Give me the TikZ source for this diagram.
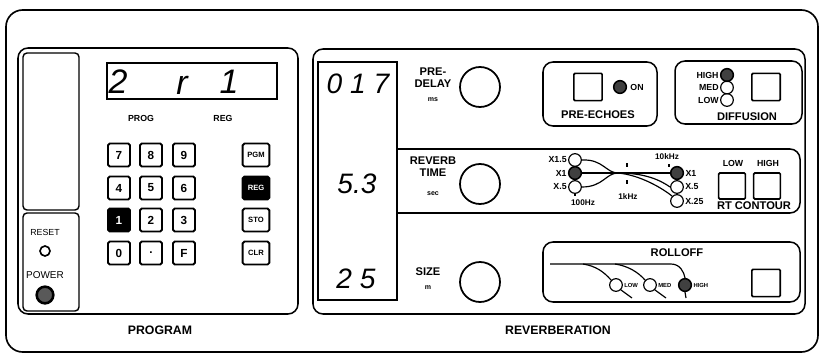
\documentclass[tikz,border=0pt]{standalone}
\usepackage{fontspec}
\setmainfont{Liberation Sans}
\tikzset{
  panel/.style={draw, line width=1.3pt, rounded corners=0.3cm},
  keybox/.style={draw, line width=1.6pt, rounded corners=1.5pt, minimum width=0.66cm, minimum height=0.69cm, inner sep=0pt, font=\bfseries\fontsize{10}{10}\selectfont},
  fnkey/.style={keybox, minimum width=0.8cm, font=\bfseries\fontsize{6.5}{7}\selectfont},
  litkey/.style={fill=black, text=white},
  knob/.style={draw, circle, line width=1.5pt, minimum size=1.2cm, inner sep=0pt},
  led/.style={draw, circle, line width=1pt, minimum size=0.38cm, inner sep=0pt},
  ledon/.style={led, fill=black!75, line width=1.3pt},
  pushbtn/.style={draw, line width=1.4pt, rounded corners=1pt, minimum width=0.85cm, minimum height=0.82cm, inner sep=0pt},
  lbl/.style={font=\bfseries\fontsize{9.5}{10.5}\selectfont, align=center},
  ledlbl/.style={font=\bfseries\fontsize{7.5}{8}\selectfont, inner sep=1pt},
  tinylbl/.style={font=\bfseries\fontsize{5}{5}\selectfont, inner sep=1pt},
  unitlbl/.style={font=\bfseries\fontsize{6}{6}\selectfont},
  seg/.style={font=\itshape\fontsize{24}{24}\selectfont, inner sep=0pt},
  wire/.style={line width=1pt},
}
\begin{document}
\begin{tikzpicture}[x=0.03cm, y=-0.03cm]
\useasboundingbox (0,0) rectangle (821,355);
\draw[line width=1.4pt, rounded corners=0.5cm] (6,10) rectangle (818,352);
\draw[panel] (18,48) rectangle (298,314);
\draw[line width=1.2pt, rounded corners=0.12cm] (23,53) rectangle (79,210);\draw[line width=1.2pt, rounded corners=0.12cm] (23,213) rectangle (79,311);
\node[font=\fontsize{7.5}{8}\selectfont] (rst) at (45,232) {RESET};
\node[draw, circle, line width=1.4pt, minimum size=0.3cm, inner sep=0pt] (rstled) at (45,251) {};
\node[font=\fontsize{8.5}{9}\selectfont] (pwr) at (45,275) {POWER};
\node[draw, circle, line width=2.2pt, fill=black!65, minimum size=0.5cm, inner sep=0pt] (pwrbtn) at (45,295) {};
\draw[line width=1.4pt] (107,63) rectangle (277,99);
\node[seg, font=\itshape\fontsize{29}{29}\selectfont] (pd1) at (118,82) {2};\node[seg, font=\itshape\fontsize{29}{29}\selectfont] (pd2) at (182,85) {r};\node[seg, font=\itshape\fontsize{29}{29}\selectfont] (pd3) at (229,82) {1};
\node[lbl, font=\bfseries\fontsize{7.5}{8}\selectfont] (prog) at (141,118) {PROG};\node[lbl, font=\bfseries\fontsize{7.5}{8}\selectfont] (reg) at (223,118) {REG};
\node[keybox] (k7) at (119,155) {7};\node[keybox] (k8) at (151,155) {8};\node[keybox] (k9) at (184,155) {9};\node[fnkey] (kpgm) at (256,155) {PGM};
\node[keybox] (k4) at (119,188) {4};\node[keybox] (k5) at (151,188) {5};\node[keybox] (k6) at (184,188) {6};\node[fnkey, litkey] (kreg) at (256,188) {REG};
\node[keybox, litkey] (k1) at (119,220) {1};\node[keybox] (k2) at (151,220) {2};\node[keybox] (k3) at (184,220) {3};\node[fnkey] (ksto) at (256,220) {STO};
\node[keybox] (k0) at (119,253) {0};\node[keybox] (kdot) at (151,253) {.};\node[keybox] (kf) at (184,253) {F};\node[fnkey] (kclr) at (256,253) {CLR};
\node[lbl, font=\bfseries\fontsize{10.5}{11}\selectfont] (progt) at (160,330) {PROGRAM};
\draw[panel] (313,49) rectangle (805,314);
\draw[line width=1.6pt] (318,62) rectangle (397,300);
\node[seg] (dpre) at (358,84) {0 1 7};\node[seg] (drev) at (357,184) {5.3};\node[seg] (dsize) at (356,279) {2 5};
\draw[line width=1.3pt, rounded corners=0.3cm] (397,149) -- (800,149) -- (800,213) -- (397,213);
\node[lbl] (prelbl) at (433,78) {PRE-\\DELAY};\node[unitlbl] (preu) at (433,100) {ms};\node[knob] (kpre) at (480,87) {};
\node[lbl] (revlbl) at (433,167) {REVERB\\TIME};\node[unitlbl] (revu) at (433,194) {sec};\node[knob] (krev) at (480,184) {};
\node[lbl] (sizelbl) at (428,272) {SIZE};\node[unitlbl] (sizeu) at (428,288) {m};\node[knob] (ksize) at (480,282) {};
\draw[panel] (543,62) rectangle (657,126);
\node[pushbtn] (bpre) at (588,87) {};\node[ledon] (lpre) at (620,87) {};\node[ledlbl] (lpreon) at (637,87) {ON};
\node[lbl] (pret) at (598,115) {PRE-ECHOES};
\draw[panel] (675,61) rectangle (802,124);
\node[ledon] (dhi) at (727,75) {};\node[led] (dmed) at (727,87.5) {};\node[led] (dlow) at (727,100) {};
\node[ledlbl, anchor=east] at (dhi.west) {HIGH};\node[ledlbl, anchor=east] at (dmed.west) {MED};\node[ledlbl, anchor=east] at (dlow.west) {LOW};
\node[pushbtn] (bdif) at (766,87) {};\node[lbl] (dift) at (747,117) {DIFFUSION};
\node[led] (xl15) at (575,160) {};\node[ledon] (xl1) at (575,173) {};\node[led] (xl05) at (575,187) {};
\node[ledon] (xr1) at (677,173) {};\node[led] (xr05) at (677,187) {};\node[led] (xr025) at (677,201) {};
\node[ledlbl, anchor=east] at (xl15.west) {X1.5};\node[ledlbl, anchor=east] at (xl1.west) {X1};\node[ledlbl, anchor=east] at (xl05.west) {X.5};
\node[ledlbl, anchor=west] at (xr1.east) {X1};\node[ledlbl, anchor=west] at (xr05.east) {X.5};\node[ledlbl, anchor=west] at (xr025.east) {X.25};
\node[ledlbl, font=\bfseries\fontsize{7}{7}\selectfont] (f10k) at (667,157) {10kHz};\node[ledlbl, font=\bfseries\fontsize{7}{7}\selectfont] (f1k) at (628,197) {1kHz};\node[ledlbl, font=\bfseries\fontsize{7}{7}\selectfont] (f100) at (583,203) {100Hz};
\coordinate (mrg) at (618,173);
\draw[wire] (xl15.east) .. controls (603,159) and (606,173) .. (mrg);\draw[wire] (xl1.east) -- (xr1.west);\draw[wire] (xl05.east) .. controls (603,187) and (606,173) .. (mrg);
\draw[wire] (mrg) .. controls (645,173) and (660,180) .. (xr05.west);\draw[wire] (mrg) .. controls (640,175) and (662,188) .. (xr025.north west);
\draw[line width=1pt] (627,163) -- (627,167);\draw[line width=1pt] (627,180) -- (627,184);\draw[line width=1pt] (575,193) -- (575,196);\draw[line width=1pt] (669,164) -- (669,167);
\node[ledlbl] (rtlo) at (733,163) {LOW};\node[ledlbl] (rthi) at (768,163) {HIGH};
\node[pushbtn, minimum width=0.8cm, minimum height=0.78cm] (brtlo) at (732,186) {};\node[pushbtn, minimum width=0.8cm, minimum height=0.78cm] (brthi) at (767,186) {};
\node[lbl, inner sep=0.5pt] (rtt) at (754,206) {RT CONTOUR};
\draw[panel] (543,242) rectangle (800,302);
\node[lbl] (rolt) at (677,253) {ROLLOFF};\node[pushbtn] (brol) at (766,283) {};
\node[led] (rlow) at (616,285) {};\node[led] (rmed) at (650,285) {};\node[ledon] (rhigh) at (685,285) {};
\node[tinylbl, anchor=west] at (rlow.east) {LOW};\node[tinylbl, anchor=west] at (rmed.east) {MED};\node[tinylbl, anchor=west] at (rhigh.east) {HIGH};
\coordinate (roA) at (550,264);\coordinate (brL) at (583,264);\coordinate (brM) at (615,264);
\coordinate (roL) at (632,298);\coordinate (roM) at (666,298);\coordinate (roH) at (686,298);
\draw[wire] (roA) -- (671,264) .. controls (680,264) and (684,272) .. (rhigh.north);\draw[wire] (rhigh.south) -- (roH);
\draw[wire] (brL) .. controls (596,266) and (604,272) .. (rlow.north west);\draw[wire] (rlow.south east) -- (roL);
\draw[wire] (brM) .. controls (628,266) and (638,272) .. (rmed.north west);\draw[wire] (rmed.south east) -- (roM);
\node[lbl, font=\bfseries\fontsize{10.5}{11}\selectfont] (revt) at (558,330) {REVERBERATION};
\end{tikzpicture}
\end{document}
